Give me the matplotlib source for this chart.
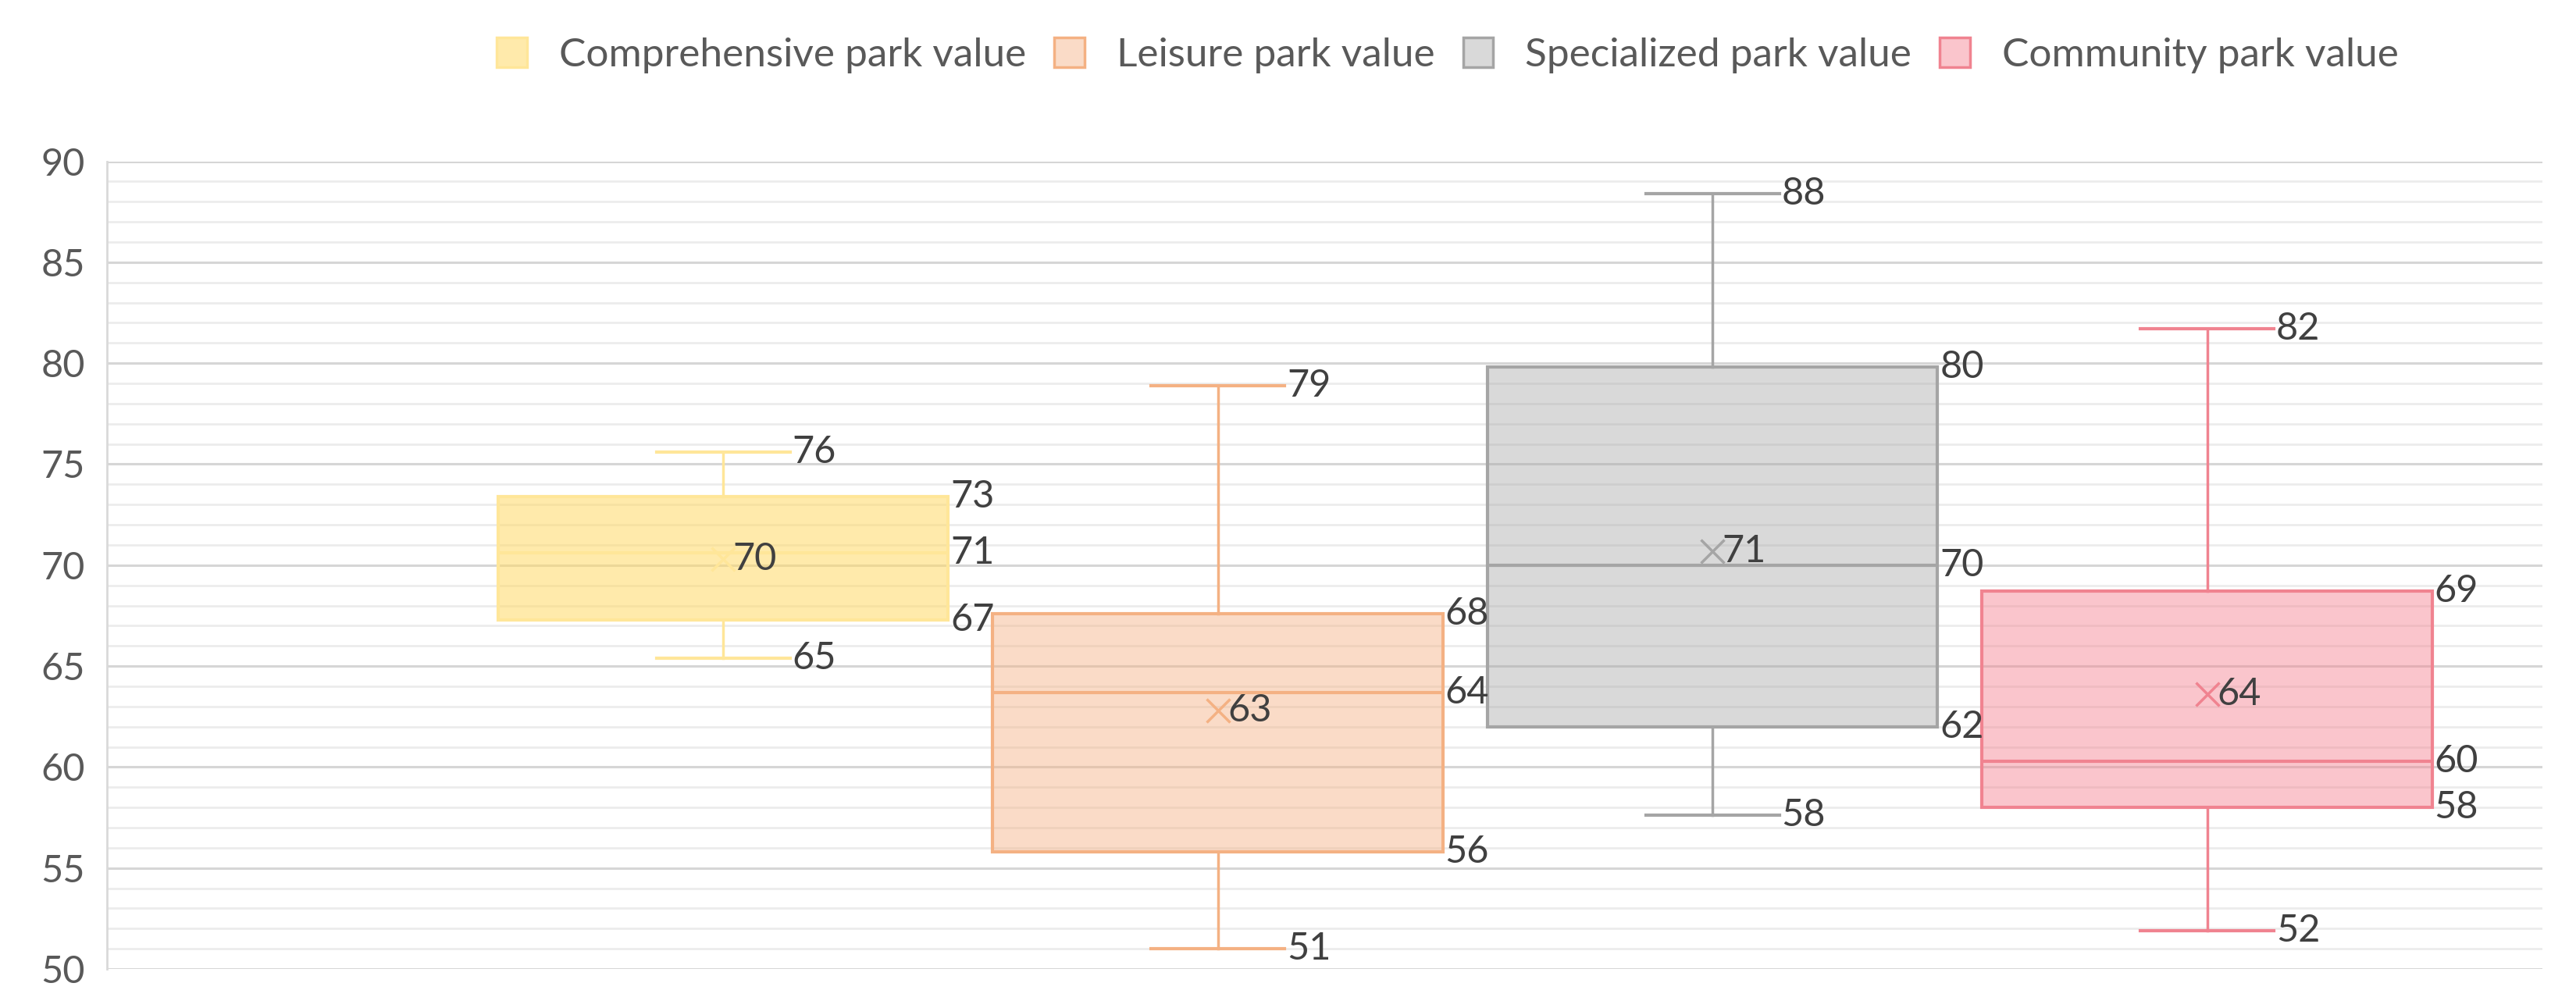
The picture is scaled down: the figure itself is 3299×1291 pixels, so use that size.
import numpy as np
import matplotlib
matplotlib.use("Agg")
import matplotlib.pyplot as plt
from matplotlib.patches import Patch
from matplotlib.ticker import MultipleLocator

plt.rcParams['font.family'] = ['Lato', 'DejaVu Sans']
num_font = ['Liberation Sans Narrow', 'Lato', 'DejaVu Sans']

# box statistics
categories = ['Comprehensive park value', 'Leisure park value',
              'Specialized park value', 'Community park value']
mins = [65.4, 51.0, 57.6, 51.9]
q1s = [67.3, 55.8, 62.0, 58.0]
medians = [70.6, 63.7, 70.0, 60.3]
means = [70.3, 62.8, 70.7, 63.6]
q3s = [73.4, 67.6, 79.8, 68.7]
maxs = [75.6, 78.9, 88.4, 81.7]

edge_colors = ['#FFE699', '#F4B183', '#A5A5A5', '#F08390']
fill_colors = [('#FFD966', 0.55), ('#F4B183', 0.45), ('#A5A5A5', 0.42), ('#F4808E', 0.45)]

fig = plt.figure(figsize=(32.99, 12.91), dpi=100)
ax = fig.add_axes([0.0415, 0.0387, 0.9455, 0.8013])

positions = np.arange(1, len(categories) + 1)
box_w = 0.91
cap_w = 0.27

# gridlines (major every 5, minor every 1)
ax.yaxis.set_major_locator(MultipleLocator(5))
ax.yaxis.set_minor_locator(MultipleLocator(1))
ax.grid(which='major', axis='y', color='#D6D6D6', linewidth=2.2, zorder=0)
ax.grid(which='minor', axis='y', color='#ECECEC', linewidth=2.0, zorder=0)
ax.set_axisbelow(True)

for i, pos in enumerate(positions):
    stats = [dict(med=medians[i], q1=q1s[i], q3=q3s[i], whislo=mins[i],
                  whishi=maxs[i], mean=means[i], fliers=[])]
    ec = edge_colors[i]
    fc = matplotlib.colors.to_rgba(fill_colors[i][0], fill_colors[i][1])
    ax.bxp(stats, positions=[pos], widths=box_w, capwidths=cap_w,
           patch_artist=True, showmeans=True, manage_ticks=False,
           boxprops=dict(facecolor=fc, edgecolor=ec, linewidth=3),
           medianprops=dict(color=ec, linewidth=3),
           whiskerprops=dict(color=ec, linewidth=2.5),
           capprops=dict(color=ec, linewidth=3),
           meanprops=dict(marker='x', markersize=22, markeredgecolor=ec,
                          markeredgewidth=2.5))

    lab = dict(fontsize=35, family=num_font, color='#404040', va='center',
               ha='left', textcoords='offset points')
    # whisker ends
    for v in (mins[i], maxs[i]):
        ax.annotate(f"{v:.0f}", (pos + cap_w / 2, v), xytext=(2, 0), **lab)
    # box values
    for v in (q1s[i], medians[i], q3s[i]):
        ax.annotate(f"{v:.0f}", (pos + box_w / 2, v), xytext=(2, 0), **lab)
    # mean
    ax.annotate(f"{means[i]:.0f}", (pos, means[i]), xytext=(9, 0), **lab)

ax.set_xlim(1 - 1.246, 4 + 0.678)
ax.set_ylim(50, 90)
ax.set_xticks([])
ax.tick_params(axis='y', which='both', length=0, pad=20, labelsize=35,
               labelcolor='#595959')
for t in ax.get_yticklabels():
    t.set_family(num_font)
for s in ['top', 'right', 'bottom']:
    ax.spines[s].set_visible(False)
ax.spines['left'].set_color('#D9D9D9')
ax.spines['left'].set_linewidth(2)

handles = [Patch(facecolor=matplotlib.colors.to_rgba(fill_colors[i][0], fill_colors[i][1]),
                 edgecolor=edge_colors[i], linewidth=2.5, label=categories[i])
           for i in range(len(categories))]
fig.legend(handles=handles, loc='center', bbox_to_anchor=(0.562, 0.945), ncol=4,
           frameon=False, fontsize=37, handlelength=0.75, handleheight=0.75,
           handletextpad=0.8, columnspacing=0.7, labelcolor='#595959')

fig.savefig('out.png', dpi=100)
